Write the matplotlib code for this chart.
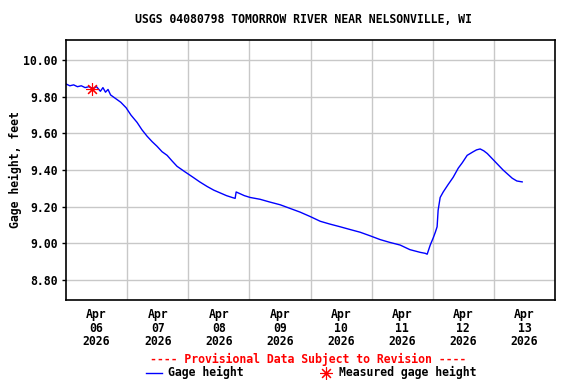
import numpy as np
import pandas as pd
import matplotlib
matplotlib.use('Agg')
import matplotlib.pyplot as plt

# Gage height trace (hours after Apr 06 00:00, feet)
hours = [0.0, 1.5, 3.0, 4.5, 6.0, 7.5, 9.0, 10.6, 12.0, 13.5, 14.5, 15.5, 16.5,
         17.5, 18.5, 20.0, 21.5, 23.6, 25.5, 27.9, 29.8, 31.8, 33.8, 35.7,
         37.7, 39.7, 41.6, 43.6, 46.7, 49.9, 52.5, 55.4, 58.0, 60.5, 63.0,
         65.2, 66.4, 66.8, 67.6, 70.0, 72.3, 76.2, 80.0, 84.1, 88.0, 91.9,
         96.0, 99.8, 103.5, 107.6, 111.5, 115.5, 119.5, 123.3, 127.0, 131.2,
         135.0, 139.1, 141.0, 141.8, 143.0, 144.2, 145.0, 145.7, 146.1, 146.9,
         148.1, 150.0, 152.0, 154.0, 155.6, 157.5, 159.9, 161.2, 162.6, 164.0,
         165.4, 168.5, 171.6, 175.2, 177.0, 179.1]
gage = [9.87, 9.86, 9.865, 9.855, 9.86, 9.85, 9.855, 9.845, 9.855, 9.83, 9.85,
        9.825, 9.84, 9.81, 9.80, 9.785, 9.77, 9.74, 9.70, 9.66, 9.62, 9.585,
        9.555, 9.53, 9.50, 9.48, 9.45, 9.42, 9.39, 9.36, 9.335, 9.31, 9.29,
        9.275, 9.26, 9.25, 9.245, 9.28, 9.275, 9.26, 9.25, 9.24, 9.225, 9.21,
        9.19, 9.17, 9.145, 9.12, 9.105, 9.09, 9.075, 9.06, 9.04, 9.02, 9.005,
        8.99, 8.965, 8.95, 8.945, 8.94, 8.99, 9.03, 9.06, 9.09, 9.18, 9.25,
        9.28, 9.32, 9.36, 9.41, 9.44, 9.48, 9.50, 9.51, 9.515, 9.505, 9.49,
        9.445, 9.40, 9.355, 9.34, 9.335]

meas_hours = [10.2]
meas_gage = [9.84]

day_labels = ['Apr\n06\n2026', 'Apr\n07\n2026', 'Apr\n08\n2026', 'Apr\n09\n2026',
              'Apr\n10\n2026', 'Apr\n11\n2026', 'Apr\n12\n2026', 'Apr\n13\n2026']
y_ticks = [8.80, 9.00, 9.20, 9.40, 9.60, 9.80, 10.00]

FONT = {'family': 'DejaVu Sans Mono', 'weight': 'bold', 'size': 8.3}

t0 = pd.Timestamp('2026-04-06')
times = t0 + pd.to_timedelta(hours, unit='h')
meas_times = t0 + pd.to_timedelta(meas_hours, unit='h')

fig = plt.figure(figsize=(5.76, 3.84), dpi=100)
ax = fig.add_axes([0.1146, 0.2188, 0.8490, 0.6770])

ax.plot(times, gage, color='#0000ff', lw=1.0)
ax.plot(meas_times, meas_gage, ls='none', marker=(8, 2, 0), ms=9,
        mec='red', mew=0.8)

ax.set_xlim(t0, t0 + pd.Timedelta(days=8))
ax.set_ylim(8.69, 10.11)

# gridlines at midnight, labels centred on each day
day_starts = [t0 + pd.Timedelta(days=k) for k in range(1, 8)]
ax.set_xticks(day_starts, minor=True)
ax.set_xticks([t0 + pd.Timedelta(hours=12 + 24 * k) for k in range(8)])
ax.set_xticklabels(day_labels, fontdict=FONT, linespacing=1.05)
ax.tick_params(axis='x', which='both', length=0, pad=6)
ax.grid(True, which='minor', axis='x', color='#c8c8c8', lw=1)

ax.set_yticks(y_ticks)
ax.set_yticklabels([f'{v:.2f}' for v in y_ticks], fontdict=FONT)
ax.tick_params(axis='y', length=3, width=1, pad=3)
ax.grid(True, which='major', axis='y', color='#c8c8c8', lw=1)
ax.set_axisbelow(True)

for s in ax.spines.values():
    s.set_linewidth(1.2)
    s.set_color('black')

ax.set_ylabel('Gage height, feet', fontdict=FONT, labelpad=1)

fig.text(0.526, 0.95, 'USGS 04080798 TOMORROW RIVER NEAR NELSONVILLE, WI',
         ha='center', va='center', **FONT)
fig.text(0.535, 0.065, '---- Provisional Data Subject to Revision ----',
         ha='center', va='center', color='red', **FONT)

# hand-placed legend row
fig.lines.append(plt.Line2D([146 / 576, 162 / 576], [0.029, 0.029],
                            color='#0000ff', lw=1, transform=fig.transFigure))
fig.text(168 / 576, 0.029, 'Gage height', ha='left', va='center', **FONT)
fig.lines.append(plt.Line2D([326 / 576], [0.029], ls='none', marker=(8, 2, 0),
                            ms=9, mec='red', mew=0.8,
                            transform=fig.transFigure))
fig.text(339 / 576, 0.029, 'Measured gage height', ha='left', va='center', **FONT)

fig.savefig('out.png', dpi=100)
